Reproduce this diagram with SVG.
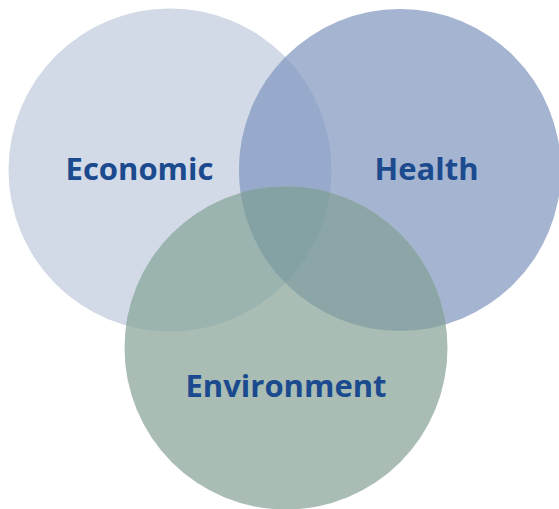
<svg xmlns="http://www.w3.org/2000/svg" width="559" height="509" viewBox="0 0 559 509">
  <style>
    .lbl { font-family: "Open Sans", "Noto Sans", "Liberation Sans", sans-serif; font-weight: 700; fill: #1c4a8e; font-size: 31px; text-anchor: middle; }
  </style>
  <defs>
    <clipPath id="cEco"><circle cx="170" cy="170" r="161.5"/></clipPath>
    <clipPath id="cHea"><circle cx="400" cy="170" r="161"/></clipPath>
    <clipPath id="cEnv"><circle cx="286" cy="348" r="161.5"/></clipPath>
  </defs>
  <rect width="559" height="509" fill="#ffffff"/>
  <g id="economic">
    <circle cx="170" cy="170" r="161.5" fill="#d2dae7"/>
  </g>
  <g id="health">
    <circle cx="400" cy="170" r="161" fill="#a5b4d0"/>
    <circle cx="400" cy="170" r="161" fill="#97aacb" clip-path="url(#cEco)"/>
  </g>
  <g id="environment">
    <circle cx="286" cy="348" r="161.5" fill="#a9bdb5"/>
    <circle cx="286" cy="348" r="161.5" fill="#9cb4b0" clip-path="url(#cEco)"/>
    <circle cx="286" cy="348" r="161.5" fill="#8ca6a8" clip-path="url(#cHea)"/>
    <g clip-path="url(#cEco)">
      <circle cx="286" cy="348" r="161.5" fill="#84a1a4" clip-path="url(#cHea)"/>
    </g>
  </g>
  <g id="labels">
    <text class="lbl" x="139.5" y="180">Economic</text>
    <text class="lbl" x="426.5" y="180">Health</text>
    <text class="lbl" x="286" y="397">Environment</text>
  </g>
  <g id="connectors"></g>
</svg>
